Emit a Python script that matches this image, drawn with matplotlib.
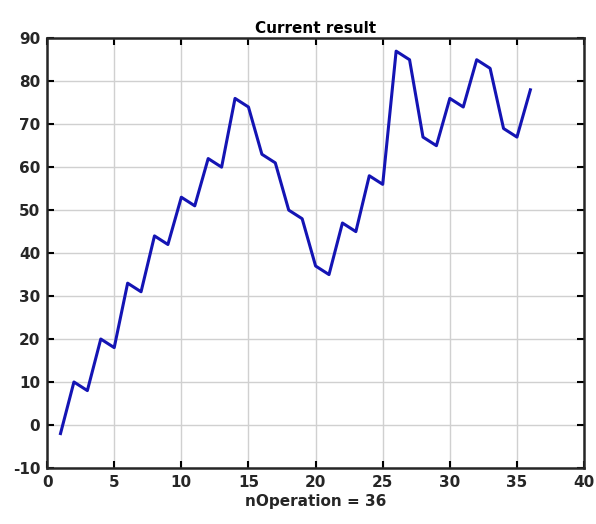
import matplotlib
matplotlib.use('Agg')
from matplotlib import pyplot as plt

plt.rcParams['font.family'] = ['DejaVu Sans']
plt.rcParams['font.weight'] = 'bold'
plt.rcParams['axes.unicode_minus'] = False

# operation index and current result
n_op = list(range(1, 37))
result = [-2, 10, 8, 20, 18, 33, 31, 44, 42, 53, 51, 62, 60, 76, 74, 63, 61, 50, 48, 37,
          35, 47, 45, 58, 56, 87, 85, 67, 65, 76, 74, 85, 83, 69, 67, 78]

x_ticks = [0, 5, 10, 15, 20, 25, 30, 35, 40]
y_ticks = [-10, 0, 10, 20, 30, 40, 50, 60, 70, 80, 90]

fig = plt.figure(figsize=(5.96, 5.24), dpi=100, facecolor='w')
ax = fig.add_axes([0.079, 0.107, 0.901, 0.820])

ax.plot(n_op, result, color='#1414b4', linewidth=2.2)

ax.set_xlim(0, 40)
ax.set_ylim(-10, 90)
ax.set_xticks(x_ticks)
ax.set_yticks(y_ticks)
ax.grid(True, color='#d0d0d0', linewidth=1.0)
ax.set_axisbelow(True)
ax.tick_params(direction='in', top=True, right=True, length=5, width=1.5,
               labelsize=11, pad=5)
for lab in ax.get_xticklabels() + ax.get_yticklabels():
    lab.set_fontweight('bold')
    lab.set_color('#262626')
for sp in ax.spines.values():
    sp.set_linewidth(1.8)
    sp.set_color('#262626')

ax.set_title('Current result', fontsize=11, fontweight='bold', pad=4)
ax.set_xlabel('nOperation = 36', fontsize=11, fontweight='bold', labelpad=3, color='#262626')

fig.savefig('out.png', dpi=100)
